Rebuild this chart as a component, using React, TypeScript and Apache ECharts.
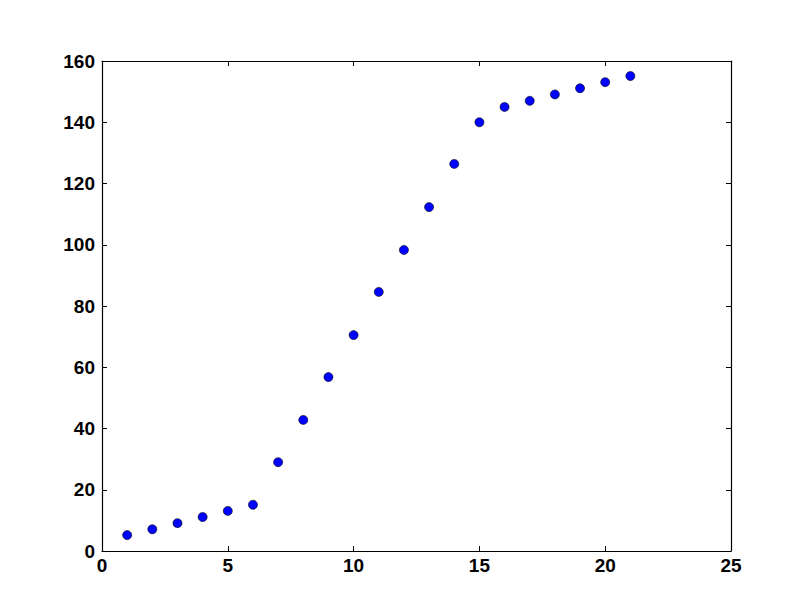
import React, { useEffect, useRef } from "react";
import * as echarts from "echarts";

const xValues = [1, 2, 3, 4, 5, 6, 7, 8, 9, 10, 11, 12, 13, 14, 15, 16, 17, 18, 19, 20, 21];
const yValues = [5.2, 7.1, 9.1, 11.1, 13.1, 15.1, 29, 42.8, 56.8, 70.5, 84.6, 98.3, 112.3, 126.4, 140, 145, 147, 149.1, 151.1, 153.1, 155.1];

const labelStyle = {
  fontFamily: "Liberation Sans, Arial, sans-serif",
  fontWeight: "bold" as const,
  fontSize: 19,
  color: "#000",
};

export default function App() {
  const ref = useRef<HTMLDivElement>(null);
  useEffect(() => {
    if (!ref.current) return;
    const chart = echarts.init(ref.current, undefined, { renderer: "svg" });
    const axisLine = { show: true, onZero: false, lineStyle: { color: "#000", width: 1.2 } };
    const tick = { show: true, inside: true, length: 5, lineStyle: { color: "#000", width: 1 } };
    chart.setOption({
      animation: false,
      backgroundColor: "#fff",
      grid: { left: 102, top: 61, right: 81, bottom: 61, containLabel: false },
      xAxis: [
        {
          type: "value", min: 0, max: 25, interval: 5, position: "bottom",
          axisLine, axisTick: tick, splitLine: { show: false },
          axisLabel: { ...labelStyle, margin: 5 },
        },
        {
          type: "value", min: 0, max: 25, interval: 5, position: "top",
          axisLine, axisTick: tick, splitLine: { show: false },
          axisLabel: { show: false },
        },
      ],
      yAxis: [
        {
          type: "value", min: 0, max: 160, interval: 20, position: "left",
          axisLine, axisTick: tick, splitLine: { show: false },
          axisLabel: { ...labelStyle, margin: 7 },
        },
        {
          type: "value", min: 0, max: 160, interval: 20, position: "right",
          axisLine, axisTick: tick, splitLine: { show: false },
          axisLabel: { show: false },
        },
      ],
      series: [
        {
          type: "scatter",
          xAxisIndex: 0,
          yAxisIndex: 0,
          symbol: "circle",
          symbolSize: 9,
          itemStyle: { color: "#0000ff", borderColor: "#000", borderWidth: 0.6, opacity: 1 },
          data: xValues.map((x, i) => [x, yValues[i]]),
        },
      ],
    });
    return () => chart.dispose();
  }, []);
  return (
    <div
      ref={ref}
      style={{ position: "fixed", left: 0, top: 0, width: 812, height: 612 }}
    />
  );
}
